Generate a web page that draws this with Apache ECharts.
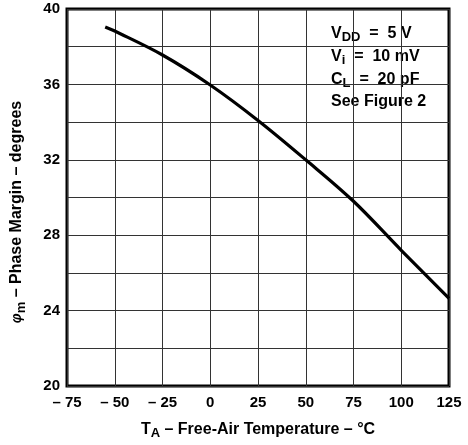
<!DOCTYPE html>
<html>
<head>
<meta charset="utf-8">
<script src="https://cdn.jsdelivr.net/npm/echarts@6/dist/echarts.min.js"></script>
<style>html,body{margin:0;padding:0;background:#fff;}#c{width:468px;height:445px;}</style>
</head>
<body>
<div id="c"></div>
<script>
// Data
const temps = [-55, -50, -25, 0, 25, 50, 75, 100, 125];
const phaseMargin = [39.05, 38.83, 37.56, 35.97, 34.09, 32.0, 29.8, 27.2, 24.65];
const xTicks = [-75, -50, -25, 0, 25, 50, 75, 100, 125];
const yTicks = [20, 24, 28, 32, 36, 40];

const FONT = '"Liberation Sans", Arial, Helvetica, sans-serif';
const chart = echarts.init(document.getElementById('c'), null, {renderer: 'canvas'});

const baseRich = {
  b: {fontFamily: FONT, fontWeight: 'bold', fontSize: 16, color: '#000'},
  s: {fontFamily: FONT, fontWeight: 'bold', fontSize: 13, color: '#000', padding: [8, 0, 0, 0]},
  p: {fontFamily: FONT, fontWeight: 'bold', fontStyle: 'italic', fontSize: 14, color: '#000'}
};

const option = {
  animation: false,
  backgroundColor: '#fff',
  grid: {left: 67, right: 19, top: 9, bottom: 53, show: true, borderColor: '#000', borderWidth: 3, backgroundColor: 'transparent'},
  xAxis: {
    type: 'value', min: -75, max: 125, interval: 25,
    axisLine: {show: false}, axisTick: {show: false},
    splitLine: {show: true, lineStyle: {color: '#333', width: 1}},
    axisLabel: {
      margin: 9, color: '#000', fontFamily: FONT, fontWeight: 'bold', fontSize: 15,
      formatter: v => xTicks.includes(v) ? (v < 0 ? '\u2013 ' + Math.abs(v) : String(v)) : ''
    },
    name: '{b|T}{s|A}{b| \u2013 Free-Air Temperature \u2013 \u00B0C}',
    nameLocation: 'middle', nameGap: 33,
    nameTextStyle: {rich: baseRich}
  },
  yAxis: {
    type: 'value', min: 20, max: 40, interval: 2,
    axisLine: {show: false}, axisTick: {show: false},
    splitLine: {show: true, lineStyle: {color: '#333', width: 1}},
    axisLabel: {
      margin: 7, color: '#000', fontFamily: FONT, fontWeight: 'bold', fontSize: 15,
      formatter: v => yTicks.includes(v) ? String(v) : ''
    }
  },
  series: [{
    type: 'line',
    data: temps.map((t, i) => [t, phaseMargin[i]]),
    smooth: 0.35,
    showSymbol: false,
    lineStyle: {color: '#000', width: 3.2},
    z: 5
  }],
  graphic: [
    {
      type: 'text', x: 17, y: 212, rotation: Math.PI / 2, z: 100,
      style: {text: '{p|\u03C6}{s|m}{b| \u2013 Phase Margin \u2013 degrees}', rich: baseRich, align: 'center', verticalAlign: 'middle'}
    },
    {
      type: 'group', z: 100,
      children: [
        {type: 'rect', shape: {x: 327, y: 14, width: 120, height: 100}, style: {fill: '#fff'}},
        {type: 'text', x: 331, y: 23, style: {text: '{b|V}{s|DD}{b|  =  5 V}', rich: baseRich}},
        {type: 'text', x: 331, y: 46, style: {text: '{b|V}{s|i}{b|  =  10 mV}', rich: baseRich}},
        {type: 'text', x: 331, y: 69, style: {text: '{b|C}{s|L}{b|  =  20 pF}', rich: baseRich}},
        {type: 'text', x: 331, y: 94, style: {text: '{b|See Figure 2}', rich: baseRich}}
      ]
    }
  ]
};
chart.setOption(option);
</script>
</body>
</html>
